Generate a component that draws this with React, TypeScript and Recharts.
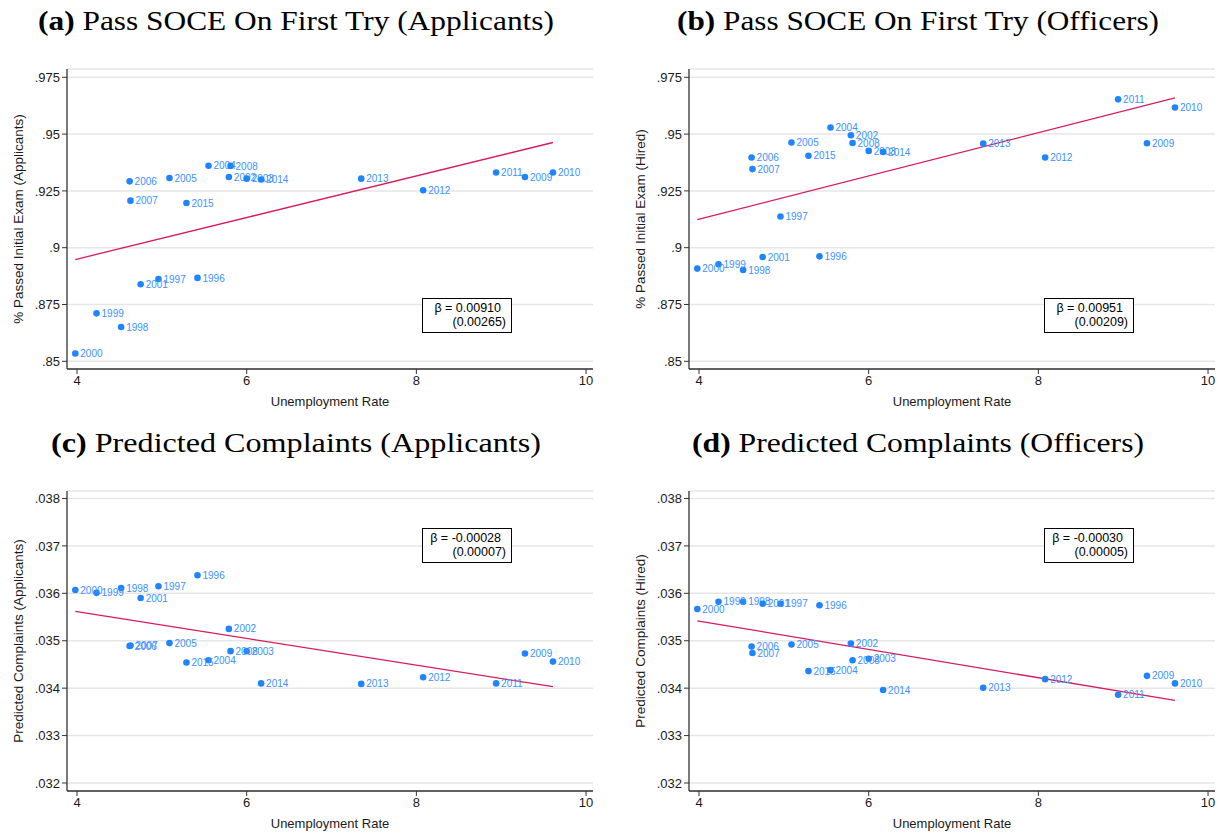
import { ScatterChart, Scatter, XAxis, YAxis, CartesianGrid, ReferenceLine } from 'recharts';

// years and the unemployment rate for each (shared by all four panels)
const YEARS = [1996, 1997, 1998, 1999, 2000, 2001, 2002, 2003, 2004, 2005, 2006, 2007, 2008, 2009, 2010, 2011, 2012, 2013, 2014, 2015];
const UNEMP = [5.42, 4.96, 4.52, 4.23, 3.98, 4.75, 5.79, 6.0, 5.55, 5.09, 4.62, 4.63, 5.81, 9.28, 9.61, 8.94, 8.08, 7.35, 6.17, 5.29];

const PASS_APPLICANTS = [0.8867, 0.8862, 0.8651, 0.8711, 0.8534, 0.8839, 0.9311, 0.9304, 0.9361, 0.9307, 0.9292, 0.9207, 0.936, 0.9311, 0.9331, 0.9331, 0.9253, 0.9304, 0.93, 0.9197];
const PASS_HIRED = [0.8962, 0.9137, 0.8902, 0.8927, 0.8908, 0.8959, 0.9495, 0.9426, 0.9529, 0.9463, 0.9397, 0.9346, 0.9461, 0.946, 0.9617, 0.9653, 0.9397, 0.9458, 0.9421, 0.9405];
const COMPLAINTS_APPLICANTS = [0.03638, 0.03615, 0.03611, 0.03601, 0.03607, 0.0359, 0.03525, 0.03478, 0.03459, 0.03495, 0.03489, 0.0349, 0.03478, 0.03473, 0.03456, 0.0341, 0.03423, 0.03409, 0.0341, 0.03454];
const COMPLAINTS_HIRED = [0.03575, 0.03578, 0.03582, 0.03582, 0.03567, 0.03578, 0.03494, 0.03462, 0.03438, 0.03492, 0.03488, 0.03474, 0.03459, 0.03426, 0.0341, 0.03386, 0.03419, 0.03401, 0.03396, 0.03436];

// fitted line endpoints (x at min/max unemployment)
const FIT_X = [3.98, 9.61];
const FIT_PASS_APPLICANTS = [0.8948, 0.9463];
const FIT_PASS_HIRED = [0.9124, 0.9659];
const FIT_COMPLAINTS_APPLICANTS = [0.03562, 0.03403];
const FIT_COMPLAINTS_HIRED = [0.03542, 0.03374];

const X_TICKS = [4, 6, 8, 10];
const PASS_TICKS = [0.85, 0.875, 0.9, 0.925, 0.95, 0.975];
const COMPLAINT_TICKS = [0.032, 0.033, 0.034, 0.035, 0.036, 0.037, 0.038];

const X_DOMAIN: [number, number] = [3.882, 10.082];
const PASS_DOMAIN: [number, number] = [0.84661, 0.97865];
const COMPLAINT_DOMAIN: [number, number] = [0.031831, 0.038158];

const SANS = '"Liberation Sans", Arial, Helvetica, sans-serif';
const SERIF = '"Liberation Serif", "Times New Roman", serif';
const DOT = '#1f84ff';
const DOT_LABEL = '#3d91ff';
const FIT_LINE = '#d81b5a';
const INK = '#1a1a1a';

const fmtTick = (v: number) => String(v).replace(/^0\./, '.');

function YearDot(props: any) {
  const { cx, cy, payload } = props;
  if (cx == null || cy == null) return <g />;
  return (
    <g>
      <circle cx={cx} cy={cy} r={3.3} fill={DOT} />
      <text x={cx + 5} y={cy} dy="0.36em" fontSize={10} fill={DOT_LABEL} fontFamily={SANS}>
        {payload.year}
      </text>
    </g>
  );
}

interface PanelProps {
  letter: string;
  title: string;
  titleWidth: number;
  yLabel: string;
  values: number[];
  fit: number[];
  ticks: number[];
  domain: [number, number];
  beta: string;
  se: string;
  left: number;
  top: number;
  boxTop: number;
}

function Panel({ letter, title, titleWidth, yLabel, values, fit, ticks, domain, beta, se, left, top, boxTop }: PanelProps) {
  const data = YEARS.map((year, i) => ({ year, x: UNEMP[i], y: values[i] }));
  const titleCenter = 296;

  return (
    <div style={{ position: 'absolute', left, top, width: 612, height: 414 }}>
      <svg width={612} height={40} style={{ position: 'absolute', left: 0, top: 0 }}>
        <text
          x={titleCenter - titleWidth / 2}
          y={30}
          fontSize={27}
          fontFamily={SERIF}
          fill="#000"
          textLength={titleWidth}
          lengthAdjust="spacingAndGlyphs"
        >
          <tspan fontWeight="bold">({letter})</tspan>
          <tspan> {title}</tspan>
        </text>
      </svg>
      <div style={{ position: 'absolute', left: 0, top: 40 }}>
        <ScatterChart width={603} height={374} margin={{ top: 29, right: 10, bottom: 0, left: 10 }}>
          <CartesianGrid vertical={false} stroke="#e6e6e6" strokeWidth={1.5} />
          <XAxis
            type="number"
            dataKey="x"
            domain={X_DOMAIN}
            ticks={X_TICKS}
            interval={0}
            allowDataOverflow
            height={45}
            tickSize={5}
            axisLine={{ stroke: '#333', strokeWidth: 1.3 }}
            tickLine={{ stroke: '#333' }}
            tick={{ fontSize: 13, fill: INK, fontFamily: SANS }}
            label={{ value: 'Unemployment Rate', position: 'insideBottom', offset: 8, style: { fontSize: 13, fill: INK, fontFamily: SANS } }}
          />
          <YAxis
            type="number"
            dataKey="y"
            domain={domain}
            ticks={ticks}
            interval={0}
            allowDataOverflow
            width={57}
            tickSize={5}
            tickFormatter={fmtTick}
            axisLine={{ stroke: '#333', strokeWidth: 1.3 }}
            tickLine={{ stroke: '#333' }}
            tick={{ fontSize: 13, fill: INK, fontFamily: SANS }}
            label={{
              value: yLabel,
              angle: -90,
              position: 'insideLeft',
              offset: 8,
              style: { fontSize: 13.5, fill: INK, fontFamily: SANS, textAnchor: 'middle' },
            }}
          />
          <ReferenceLine
            segment={[{ x: FIT_X[0], y: fit[0] }, { x: FIT_X[1], y: fit[1] }]}
            stroke={FIT_LINE}
            strokeWidth={1.3}
          />
          <Scatter data={data} shape={YearDot} isAnimationActive={false} />
        </ScatterChart>
      </div>
      <div
        style={{
          position: 'absolute',
          left: 422,
          top: boxTop,
          width: 88,
          height: 31,
          border: '1px solid #000',
          background: '#fff',
          fontFamily: SANS,
          fontSize: 12.5,
          lineHeight: '14px',
          color: '#000',
          textAlign: 'right',
          paddingTop: 2,
          boxSizing: 'content-box',
        }}
      >
        <div style={{ paddingRight: 10 }}>{beta}</div>
        <div style={{ paddingRight: 5 }}>{se}</div>
      </div>
    </div>
  );
}

export default function App() {
  return (
    <div style={{ position: 'absolute', left: 0, top: 0, width: 1225, height: 833, background: '#fff' }}>
      <Panel
        letter="a"
        title="Pass SOCE On First Try (Applicants)"
        titleWidth={516}
        yLabel="% Passed Initial Exam (Applicants)"
        values={PASS_APPLICANTS}
        fit={FIT_PASS_APPLICANTS}
        ticks={PASS_TICKS}
        domain={PASS_DOMAIN}
        beta="β = 0.00910"
        se="(0.00265)"
        left={0}
        top={0}
        boxTop={298}
      />
      <Panel
        letter="b"
        title="Pass SOCE On First Try (Officers)"
        titleWidth={482}
        yLabel="% Passed Initial Exam (Hired)"
        values={PASS_HIRED}
        fit={FIT_PASS_HIRED}
        ticks={PASS_TICKS}
        domain={PASS_DOMAIN}
        beta="β = 0.00951"
        se="(0.00209)"
        left={622}
        top={0}
        boxTop={298}
      />
      <Panel
        letter="c"
        title="Predicted Complaints (Applicants)"
        titleWidth={490}
        yLabel="Predicted Complaints (Applicants)"
        values={COMPLAINTS_APPLICANTS}
        fit={FIT_COMPLAINTS_APPLICANTS}
        ticks={COMPLAINT_TICKS}
        domain={COMPLAINT_DOMAIN}
        beta="β = -0.00028"
        se="(0.00007)"
        left={0}
        top={422}
        boxTop={106}
      />
      <Panel
        letter="d"
        title="Predicted Complaints (Officers)"
        titleWidth={452}
        yLabel="Predicted Complaints (Hired)"
        values={COMPLAINTS_HIRED}
        fit={FIT_COMPLAINTS_HIRED}
        ticks={COMPLAINT_TICKS}
        domain={COMPLAINT_DOMAIN}
        beta="β = -0.00030"
        se="(0.00005)"
        left={622}
        top={422}
        boxTop={106}
      />
    </div>
  );
}
